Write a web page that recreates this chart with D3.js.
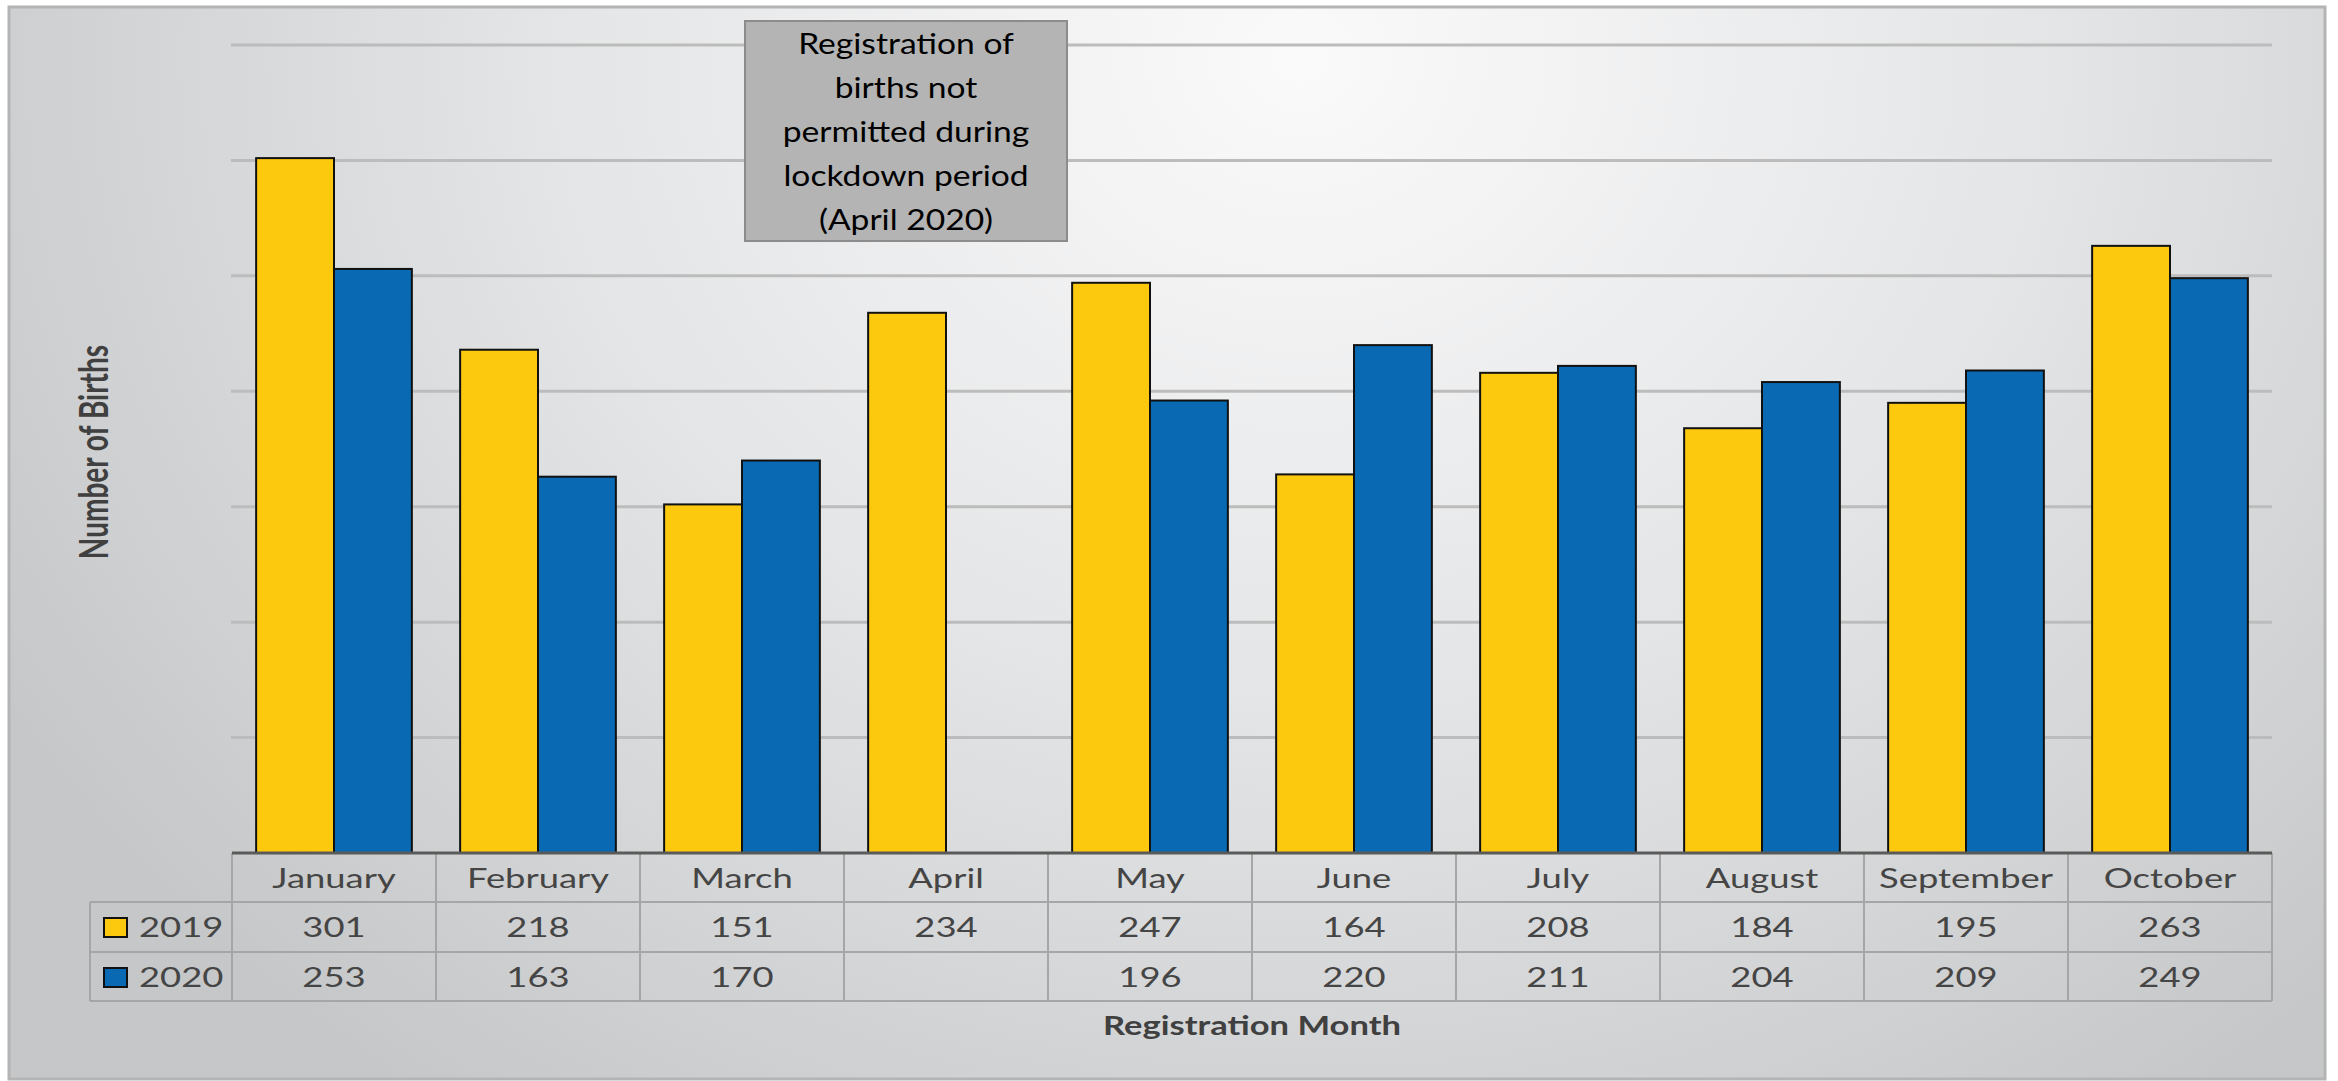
<!DOCTYPE html>
<html>
<head>
<meta charset="utf-8">
<script src="https://cdn.jsdelivr.net/npm/d3@7"></script>
<style>
  body { margin: 0; background: #fff; }
  svg { display: block; }
  text { font-family: Lato, "Open Sans", sans-serif; }
</style>
</head>
<body>
<div id="chart"></div>
<script>
const months = ["January", "February", "March", "April", "May", "June", "July", "August", "September", "October"];
const years = ["2019", "2020"];
const births2019 = [301, 218, 151, 234, 247, 164, 208, 184, 195, 263];
const births2020 = [253, 163, 170, null, 196, 220, 211, 204, 209, 249]; // April 2020 not registered
const yTicks = [50, 100, 150, 200, 250, 300, 350];
const noteLines = ["Registration of", "births not", "permitted during", "lockdown period", "(April 2020)"];

const colors = { "2019": "#fcc90f", "2020": "#0969b2" };
const series = { "2019": births2019, "2020": births2020 };

const W = 2338, H = 1081;
const plot = { left: 232, right: 2272, top: 45, bottom: 853 };
const rowH = [49, 50, 49]; // header, 2019, 2020
const SX = 1.4; // the source slide is stretched sideways

const svg = d3.select("#chart").append("svg")
  .attr("width", W)
  .attr("height", H);

// background gradient
const defs = svg.append("defs");
const grad = defs.append("radialGradient")
  .attr("id", "bg")
  .attr("gradientUnits", "userSpaceOnUse")
  .attr("cx", 1300).attr("cy", 60).attr("r", 1500)
  .attr("gradientTransform", "translate(1300,60) scale(1,0.85) translate(-1300,-60)");
grad.append("stop").attr("offset", 0).attr("stop-color", "#fafafb");
grad.append("stop").attr("offset", 0.5).attr("stop-color", "#e4e5e6");
grad.append("stop").attr("offset", 1).attr("stop-color", "#c6c7c8");

svg.append("rect")
  .attr("x", 9).attr("y", 7)
  .attr("width", 2316).attr("height", 1072)
  .attr("fill", "url(#bg)")
  .attr("stroke", "#b4b4b4")
  .attr("stroke-width", 3);

// scales
const x0 = d3.scaleBand()
  .domain(months)
  .range([plot.left, plot.right])
  .padding(0);

const x1 = d3.scaleBand()
  .domain(years)
  .range([0, x0.bandwidth()])
  .paddingInner(0)
  .paddingOuter(0.31);

const y = d3.scaleLinear()
  .domain([0, 350])
  .range([plot.bottom, plot.top]);

// gridlines
svg.append("g")
  .selectAll("line")
  .data(yTicks)
  .join("line")
  .attr("x1", plot.left - 1)
  .attr("x2", plot.right)
  .attr("y1", d => y(d))
  .attr("y2", d => y(d))
  .attr("stroke", "#bcbcbc")
  .attr("stroke-width", 3);

// bars
const groups = svg.append("g")
  .selectAll("g")
  .data(months)
  .join("g")
  .attr("transform", d => `translate(${x0(d)},0)`);

groups.selectAll("rect")
  .data((m, i) => years.map(yr => ({ year: yr, value: series[yr][i] })).filter(d => d.value != null))
  .join("rect")
  .attr("x", d => x1(d.year))
  .attr("y", d => y(d.value))
  .attr("width", x1.bandwidth())
  .attr("height", d => y(0) - y(d.value))
  .attr("fill", d => colors[d.year])
  .attr("stroke", "#111")
  .attr("stroke-width", 2);

// data table under the axis
const table = svg.append("g");
const rowTop = [plot.bottom, plot.bottom + rowH[0], plot.bottom + rowH[0] + rowH[1]];
const tableBottom = rowTop[2] + rowH[2];
const legendLeft = 90;

// horizontal rules
table.selectAll("line.h")
  .data([rowTop[1], rowTop[2], tableBottom])
  .join("line")
  .attr("class", "h")
  .attr("x1", legendLeft).attr("x2", plot.right)
  .attr("y1", d => d).attr("y2", d => d)
  .attr("stroke", "#a6a6a6").attr("stroke-width", 2);

// vertical rules
table.selectAll("line.v")
  .data(months.map(m => x0(m)).concat([plot.right]))
  .join("line")
  .attr("class", "v")
  .attr("x1", d => d).attr("x2", d => d)
  .attr("y1", plot.bottom).attr("y2", tableBottom)
  .attr("stroke", "#a6a6a6").attr("stroke-width", 2);

table.append("line")
  .attr("x1", legendLeft).attr("x2", legendLeft)
  .attr("y1", rowTop[1]).attr("y2", tableBottom)
  .attr("stroke", "#a6a6a6").attr("stroke-width", 2);

// axis line
svg.append("line")
  .attr("x1", plot.left).attr("x2", plot.right)
  .attr("y1", plot.bottom).attr("y2", plot.bottom)
  .attr("stroke", "#5a5a5a").attr("stroke-width", 3);

// month headers
table.selectAll("text.month")
  .data(months)
  .join("text")
  .attr("class", "month")
  .attr("transform", d => `translate(${x0(d) + x0.bandwidth() / 2},${rowTop[0] + 35}) scale(${SX},1)`)
  .attr("text-anchor", "middle")
  .attr("font-size", 26)
  .attr("fill", "#454545")
  .text(d => d);

// value rows
years.forEach((yr, r) => {
  const base = rowTop[r + 1] + 35;
  table.append("rect")
    .attr("x", 104).attr("y", base - 19)
    .attr("width", 23).attr("height", 19)
    .attr("fill", colors[yr])
    .attr("stroke", "#111").attr("stroke-width", 2);

  table.append("text")
    .attr("transform", `translate(139,${base}) scale(${SX},1)`)
    .attr("font-size", 26)
    .attr("fill", "#454545")
    .text(yr);

  table.selectAll(`text.v${yr}`)
    .data(months.map((m, i) => ({ m, v: series[yr][i] })).filter(d => d.v != null))
    .join("text")
    .attr("class", `v${yr}`)
    .attr("transform", d => `translate(${x0(d.m) + x0.bandwidth() / 2},${base}) scale(${SX},1)`)
    .attr("text-anchor", "middle")
    .attr("font-size", 26)
    .attr("fill", "#454545")
    .text(d => d.v);
});

// axis titles
svg.append("text")
  .attr("transform", `translate(${(plot.left + plot.right) / 2},1035) scale(1.28,1)`)
  .attr("text-anchor", "middle")
  .attr("font-size", 27)
  .attr("font-weight", "bold")
  .attr("fill", "#404040")
  .text("Registration Month");

svg.append("text")
  .attr("transform", `translate(108,452) scale(${SX},1) rotate(-90)`)
  .attr("text-anchor", "middle")
  .attr("font-size", 28)
  .attr("font-weight", "bold")
  .attr("fill", "#404040")
  .text("Number of Births");

// lockdown note
const note = svg.append("g");
note.append("rect")
  .attr("x", 745).attr("y", 21)
  .attr("width", 322).attr("height", 220)
  .attr("fill", "#b4b4b4")
  .attr("stroke", "#8c8c8c")
  .attr("stroke-width", 2);

note.selectAll("text")
  .data(noteLines)
  .join("text")
  .attr("transform", (d, i) => `translate(906,${54 + i * 44}) scale(1.2,1)`)
  .attr("text-anchor", "middle")
  .attr("font-size", 28)
  .attr("fill", "#000")
  .text(d => d);
</script>
</body>
</html>
